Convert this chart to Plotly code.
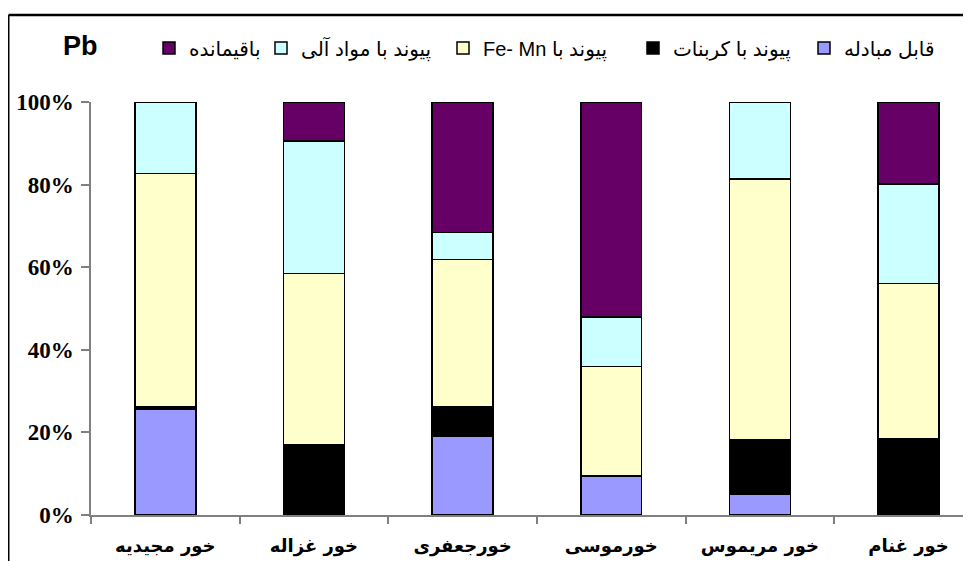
import plotly.graph_objects as go

# ---- data (percent of total Pb in each fraction) ----
stations = ["خور مجیدیه", "خور غزاله", "خورجعفری", "خورموسی", "خور مریموس", "خور غنام"]
exchangeable = [25.7, 0.0, 19.1, 9.5, 5.0, 0.0]
carbonate = [0.6, 16.9, 7.0, 0.0, 13.3, 18.5]
fe_mn = [56.4, 41.6, 35.8, 26.4, 63.0, 37.6]
organic = [17.3, 32.1, 6.5, 12.1, 18.7, 24.0]
residual = [0.0, 9.4, 31.6, 52.0, 0.0, 19.9]

series_names = ["قابل مبادله", "پیوند با کربنات", "\u202Bپیوند با Fe- Mn\u202C", "پیوند با مواد آلی", "باقیمانده"]
series_values = [exchangeable, carbonate, fe_mn, organic, residual]
series_colors = ["#9999FF", "#000000", "#FFFFCC", "#CCFFFF", "#660066"]
y_ticks = [0, 20, 40, 60, 80, 100]
y_tick_labels = ["0%", "20%", "40%", "60%", "80%", "100%"]
element = "Pb"

# ---- layout geometry ----
OFF = 8  # page body margin
W, H = 963, 553
ML, MR, MT, MB = 83, 0, 94, 46
PW = W - ML - MR
PH = H - MT - MB


def px_x(p):  # page pixel -> paper x
    return (p - OFF - ML) / PW


def px_y(p):  # page pixel -> paper y
    return (H - MB - (p - OFF)) / PH


legend_keys = ["legend", "legend2", "legend3", "legend4", "legend5"]
legend_text_start = [843, 672, 482, 300, 188]

fig = go.Figure()
for name, vals, col, lk in zip(series_names, series_values, series_colors, legend_keys):
    fig.add_trace(go.Bar(
        x=stations, y=vals, name=name,
        marker=dict(color=col, line=dict(color="#000000", width=1.5)),
        width=0.41, legend=lk,
    ))

layout_legends = {}
for lk, ts in zip(legend_keys, legend_text_start):
    layout_legends[lk] = dict(
        x=px_x(ts - 39), xanchor="left", y=px_y(48), yanchor="middle",
        font=dict(family="Arial, DejaVu Sans", size=20, color="#000000"),
        bgcolor="rgba(0,0,0,0)", borderwidth=0,
    )

fig.update_layout(
    width=W, height=H,
    margin=dict(l=ML, r=MR, t=MT, b=MB, pad=0),
    barmode="stack",
    plot_bgcolor="#FFFFFF", paper_bgcolor="#FFFFFF",
    showlegend=True,
    **layout_legends,
)

fig.update_xaxes(
    range=[-0.5, 5.42],
    showline=True, linecolor="#808080", linewidth=1.5,
    ticks="outside", tickson="boundaries", ticklen=7, tickcolor="#808080", tickwidth=1.5,
    tickfont=dict(family="DejaVu Sans", size=18, color="#000000", weight="bold"),
    ticklabelstandoff=14,
    showgrid=False, zeroline=False,
)
fig.update_yaxes(
    range=[0, 100],
    tickvals=y_ticks, ticktext=y_tick_labels,
    showline=True, linecolor="#808080", linewidth=1.5,
    ticks="outside", ticklen=8, tickcolor="#808080", tickwidth=1.5,
    tickfont=dict(family="Liberation Serif, Times New Roman", size=23, color="#000000", weight="bold"),
    ticklabelstandoff=3,
    showgrid=False, zeroline=False,
)

# chart frame (top and left edges; right/bottom fall outside the picture)
fig.add_shape(type="line", xref="paper", yref="paper",
              x0=px_x(8.5), x1=px_x(975), y0=px_y(15), y1=px_y(15),
              line=dict(color="#000000", width=2.5), layer="above")
fig.add_shape(type="line", xref="paper", yref="paper",
              x0=px_x(8.5), x1=px_x(8.5), y0=px_y(15), y1=px_y(565),
              line=dict(color="#000000", width=2), layer="above")

# element label
fig.add_annotation(text=element, xref="paper", yref="paper",
                   x=px_x(80), y=px_y(46), xanchor="center", yanchor="middle",
                   showarrow=False,
                   font=dict(family="Arial, Liberation Sans", size=27, color="#000000", weight="bold"))

fig.write_html("out.html")
